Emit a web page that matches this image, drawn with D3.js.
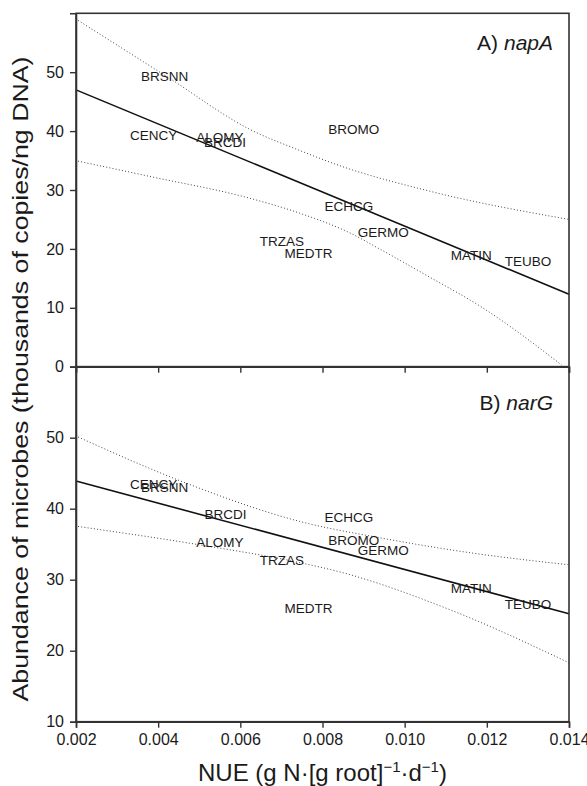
<!DOCTYPE html>
<html>
<head>
  <meta charset="UTF-8">
  <style>
    body { margin: 0; background: #fff; }
    svg { display: block; font-family: 'Liberation Sans', Arial, sans-serif; }
    .species { fill: #1a1a1a; font-size: 13.5px; }
    .tick text { fill: #1a1a1a; font-size: 16px; }
    .domain, .tick line { stroke: #333; }
  </style>
  <script src="https://d3js.org/d3.v7.min.js"></script>
</head>
<body>
<div id="chart"></div>
<script>
// species labels and their positions (NUE, abundance)
const speciesA = ['BRSNN', 'CENCY', 'ALOMY', 'BRCDI', 'BROMO', 'ECHCG', 'GERMO', 'TRZAS', 'MEDTR', 'MATIN', 'TEUBO'];
const nueA = [0.00416, 0.00389, 0.0055, 0.00563, 0.00876, 0.00864, 0.00948, 0.00701, 0.00766, 0.01162, 0.0130];
const napA = [49.4, 39.3, 39.0, 38.1, 40.4, 27.2, 22.9, 21.4, 19.3, 18.9, 17.9];

const speciesB = ['CENCY', 'BRSNN', 'BRCDI', 'ALOMY', 'TRZAS', 'ECHCG', 'BROMO', 'GERMO', 'MEDTR', 'MATIN', 'TEUBO'];
const nueB = [0.00389, 0.00416, 0.00564, 0.0055, 0.00701, 0.00864, 0.00876, 0.00948, 0.00766, 0.01162, 0.0130];
const narG = [43.4, 43.05, 39.3, 35.25, 32.7, 38.8, 35.6, 34.1, 26.0, 28.8, 26.6];

// regression lines
const fitX = [0.002, 0.014];
const fitA = [47.0, 12.3];
const fitB = [43.9, 25.2];

// confidence bands
const upperAx = [0.00205, 0.00429, 0.00623, 0.00745, 0.00835, 0.01061, 0.014];
const upperAy = [58.8, 48.9, 40.3, 36.7, 34.3, 29.8, 25.0];
const lowerAx = [0.00205, 0.0038, 0.00623, 0.00745, 0.00867, 0.0094, 0.01061, 0.01183, 0.01382];
const lowerAy = [34.9, 32.3, 28.6, 26.05, 22.7, 19.95, 15.2, 10.3, 0.3];
const upperBx = [0.00205, 0.00477, 0.00745, 0.0094, 0.01159, 0.014];
const upperBy = [50.1, 43.4, 38.2, 35.9, 33.8, 32.1];
const lowerBx = [0.00205, 0.00502, 0.00745, 0.00842, 0.01109, 0.014];
const lowerBy = [37.5, 34.9, 32.4, 31.1, 25.8, 18.3];

const xTicks = [0.002, 0.004, 0.006, 0.008, 0.010, 0.012, 0.014];
const yTicksA = [0, 10, 20, 30, 40, 50];
const yTicksB = [10, 20, 30, 40, 50];

const width = 587, height = 786;
const left = 76, right = 569;

const svg = d3.select('#chart').append('svg')
  .attr('width', width)
  .attr('height', height);

const x = d3.scaleLinear().domain([0.002, 0.014]).range([left, right]);

const panels = [
  { title: 'A) ', gene: 'napA', top: 13.3, bottom: 366.7, domain: [0, 60], ticks: yTicksA,
    names: speciesA, xs: nueA, ys: napA, fit: fitA,
    up: [upperAx, upperAy], lo: [lowerAx, lowerAy], labelY: 50 },
  { title: 'B) ', gene: 'narG', top: 366.7, bottom: 721.7, domain: [10, 60], ticks: yTicksB,
    names: speciesB, xs: nueB, ys: narG, fit: fitB,
    up: [upperBx, upperBy], lo: [lowerBx, lowerBy], labelY: 409.5 }
];

panels.forEach((p, i) => {
  const y = d3.scaleLinear().domain(p.domain).range([p.bottom, p.top]);
  const g = svg.append('g');

  const line = d3.line()
    .x(d => x(d[0]))
    .y(d => y(d[1]))
    .curve(d3.curveMonotoneX);

  // confidence bands
  [p.up, p.lo].forEach(b => {
    g.append('path')
      .datum(b[0].map((v, k) => [v, b[1][k]]))
      .attr('d', line)
      .attr('fill', 'none')
      .attr('stroke', '#444')
      .attr('stroke-width', 1)
      .attr('stroke-dasharray', '1,2.2');
  });

  // fitted line
  g.append('path')
    .datum(fitX.map((v, k) => [v, p.fit[k]]))
    .attr('d', d3.line().x(d => x(d[0])).y(d => y(d[1])))
    .attr('fill', 'none')
    .attr('stroke', '#111')
    .attr('stroke-width', 1.6);

  // species labels
  g.selectAll('text.species')
    .data(p.names)
    .enter().append('text')
    .attr('class', 'species')
    .attr('x', (d, k) => x(p.xs[k]))
    .attr('y', (d, k) => y(p.ys[k]))
    .attr('dy', '0.36em')
    .attr('text-anchor', 'middle')
    .text(d => d);

  // frame
  g.append('rect')
    .attr('x', left).attr('y', p.top)
    .attr('width', right - left).attr('height', p.bottom - p.top)
    .attr('fill', 'none')
    .attr('stroke', '#333')
    .attr('stroke-width', 1.6);

  // y axis
  const ya = g.append('g')
    .attr('transform', `translate(${left},0)`)
    .call(d3.axisLeft(y).tickValues(p.ticks).tickSize(6).tickPadding(6).tickFormat(d3.format('d')));
  ya.select('.domain').attr('stroke-width', 1.6);
  ya.selectAll('.tick line').attr('stroke-width', 1.4);

  // x axis (labels only on the lower panel)
  const xa = g.append('g')
    .attr('transform', `translate(0,${p.bottom})`)
    .call(d3.axisBottom(x).tickValues(xTicks).tickSize(6).tickPadding(6)
      .tickFormat(i === 1 ? d3.format('.3f') : () => ''));
  xa.select('.domain').attr('stroke-width', 1.6);
  xa.selectAll('.tick line').attr('stroke-width', 1.4);

  // panel title
  const t = g.append('text')
    .attr('x', 553)
    .attr('y', p.labelY)
    .attr('text-anchor', 'end')
    .style('font-size', '21px')
    .attr('fill', '#1a1a1a');
  t.append('tspan').text(p.title);
  t.append('tspan').attr('font-style', 'italic').text(p.gene);
});

// axis titles
svg.append('text')
  .attr('transform', 'translate(28,379) rotate(-90)')
  .attr('text-anchor', 'middle')
  .attr('textLength', 645)
  .attr('lengthAdjust', 'spacingAndGlyphs')
  .style('font-size', '22px')
  .attr('fill', '#1a1a1a')
  .text('Abundance of microbes (thousands of copies/ng DNA)');

const xt = svg.append('text')
  .attr('x', (left + right) / 2)
  .attr('y', 781)
  .attr('text-anchor', 'middle')
  .style('font-size', '24px')
  .attr('fill', '#1a1a1a');
xt.append('tspan').text('NUE (g N\u00b7[g root]');
xt.append('tspan').attr('dy', -9).style('font-size', '15px').text('\u22121');
xt.append('tspan').attr('dy', 9).text('\u00b7d');
xt.append('tspan').attr('dy', -9).style('font-size', '15px').text('\u22121');
xt.append('tspan').attr('dy', 9).text(')');
</script>
</body>
</html>
